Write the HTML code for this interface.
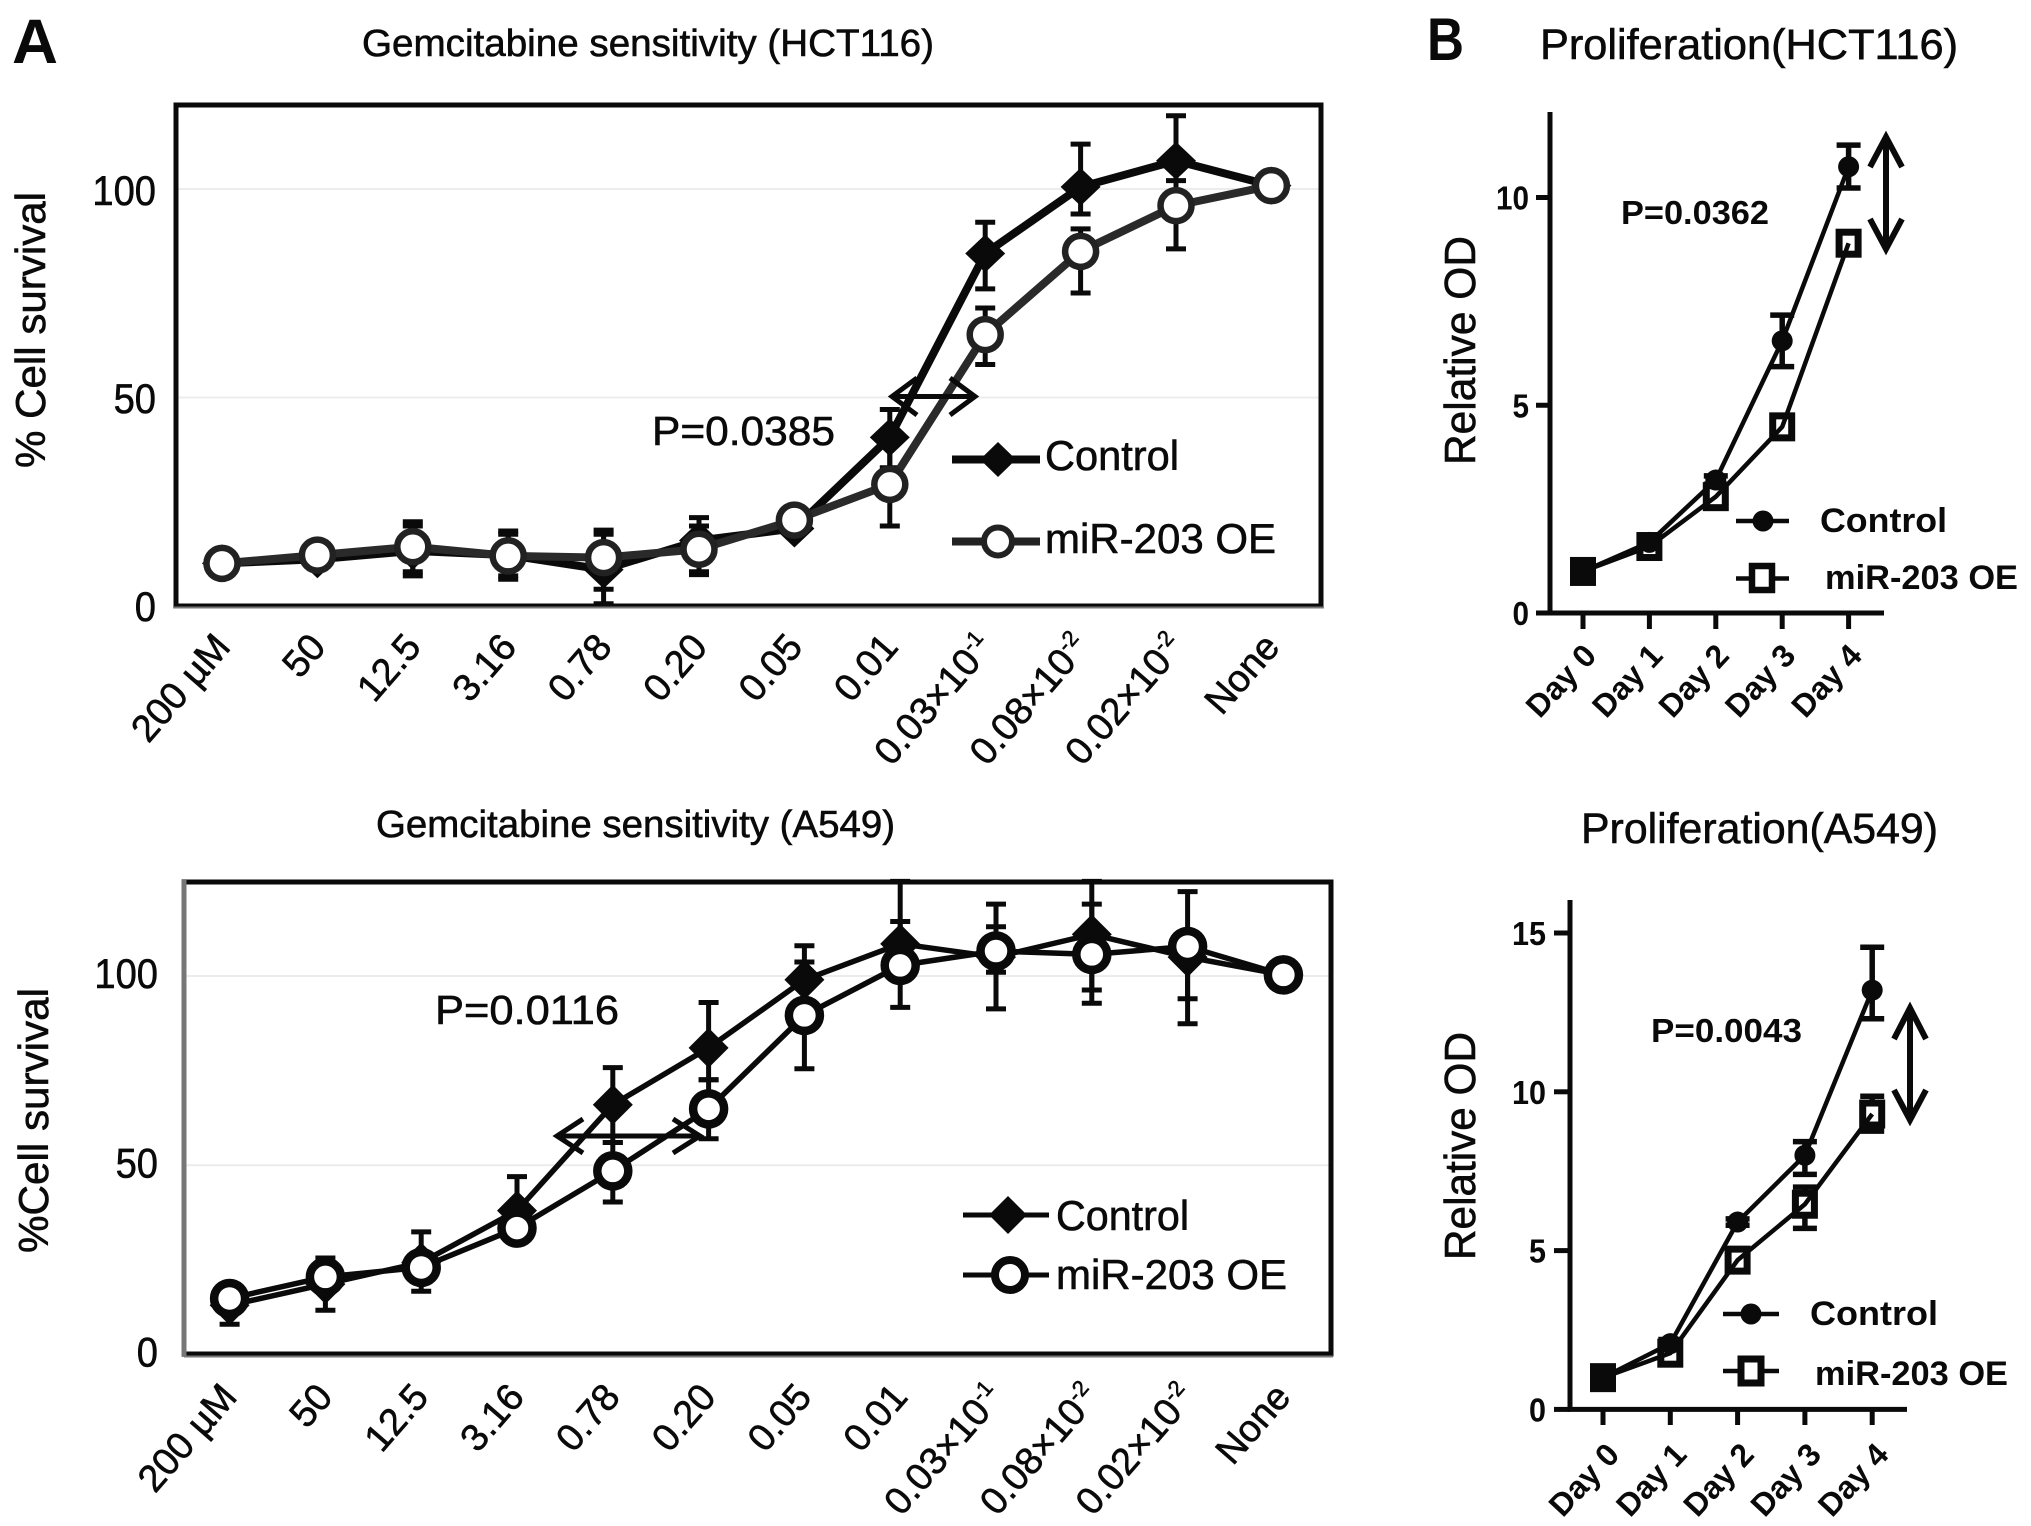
<!DOCTYPE html>
<html lang="en">
<head>
<meta charset="utf-8">
<title>Gemcitabine sensitivity and proliferation</title>
<style>
html,body{margin:0;padding:0;background:#fff;width:2031px;height:1526px;overflow:hidden}
svg{display:block}
text{font-family:"Liberation Sans",sans-serif;fill:#0a0a0a;stroke:#0a0a0a;stroke-width:.6}
.b{font-weight:bold;stroke-width:0}
</style>
</head>
<body>
<svg id="fig" xmlns="http://www.w3.org/2000/svg" width="2031" height="1526" viewBox="0 0 2031 1526">
  <rect x="0" y="0" width="2031" height="1526" fill="#fff"/>

  <text class="b" x="12" y="63" font-size="63" textLength="46" lengthAdjust="spacingAndGlyphs">A</text>
  <text class="b" x="1427" y="60" font-size="60" textLength="37" lengthAdjust="spacingAndGlyphs">B</text>

  <text x="362" y="56" font-size="38" textLength="572" lengthAdjust="spacingAndGlyphs">Gemcitabine sensitivity (HCT116)</text>
  <text x="376" y="837" font-size="38" textLength="519" lengthAdjust="spacingAndGlyphs">Gemcitabine sensitivity (A549)</text>
  <text x="1540" y="59" font-size="43" textLength="418" lengthAdjust="spacingAndGlyphs">Proliferation(HCT116)</text>
  <text x="1581" y="843" font-size="43" textLength="357" lengthAdjust="spacingAndGlyphs">Proliferation(A549)</text>

  <text transform="translate(45 468) rotate(-90)" font-size="42" textLength="276" lengthAdjust="spacingAndGlyphs">% Cell survival</text>
  <text transform="translate(48 1253) rotate(-90)" font-size="42" textLength="265" lengthAdjust="spacingAndGlyphs">%Cell survival</text>
  <text transform="translate(1475 465) rotate(-90)" font-size="44" textLength="229" lengthAdjust="spacingAndGlyphs">Relative OD</text>
  <text transform="translate(1475 1260) rotate(-90)" font-size="44" textLength="228" lengthAdjust="spacingAndGlyphs">Relative OD</text>

  <g id="layer-a1">
    <line x1="176" y1="189" x2="1320" y2="189" stroke="#ececec" stroke-width="2"/>
    <line x1="176" y1="397.5" x2="1320" y2="397.5" stroke="#ececec" stroke-width="2"/>
    <rect x="176" y="105" width="1145" height="501" fill="none" stroke="#0a0a0a" stroke-width="5"/>
    <line x1="174" y1="607.5" x2="1323" y2="607.5" stroke="#777" stroke-width="2"/>
  </g>
  <g id="layer-a2">
    <line x1="186" y1="976" x2="1330" y2="976" stroke="#ececec" stroke-width="2"/>
    <line x1="186" y1="1165.3" x2="1330" y2="1165.3" stroke="#ececec" stroke-width="2"/>
    <rect x="184" y="882" width="1147" height="472" fill="none" stroke="#0a0a0a" stroke-width="5"/>
    <line x1="184" y1="880" x2="184" y2="1356" stroke="#777" stroke-width="5"/>
    <line x1="184" y1="1356.5" x2="1333" y2="1356.5" stroke="#777" stroke-width="2"/>
  </g>
  <g id="layer-b1"></g>
  <g id="layer-b2"></g>

  <!-- annotations -->
  <text x="652" y="445" font-size="41" textLength="183" lengthAdjust="spacingAndGlyphs">P=0.0385</text>
  <text x="435" y="1024" font-size="41" textLength="184" lengthAdjust="spacingAndGlyphs">P=0.0116</text>
  <text class="b" x="1621" y="224" font-size="33" textLength="148" lengthAdjust="spacingAndGlyphs">P=0.0362</text>
  <text class="b" x="1651" y="1042" font-size="33" textLength="151" lengthAdjust="spacingAndGlyphs">P=0.0043</text>

  <g fill="none" stroke="#0a0a0a" stroke-width="5">
    <line x1="892" y1="396.5" x2="975" y2="396.5"/>
    <polyline points="917,378 892,396.5 917,415"/>
    <polyline points="950,378 975,396.5 950,415"/>
  </g>
  <g fill="none" stroke="#0a0a0a" stroke-width="5">
    <line x1="557" y1="1136" x2="700" y2="1136"/>
    <polyline points="583,1119 557,1136 583,1153"/>
    <polyline points="673,1119 700,1136 673,1153"/>
  </g>
  <g fill="none" stroke="#0a0a0a" stroke-width="6">
    <line x1="1886" y1="137" x2="1886" y2="249"/>
    <polyline points="1870,167 1886,137 1902,167"/>
    <polyline points="1870,219 1886,249 1902,219"/>
  </g>
  <g fill="none" stroke="#0a0a0a" stroke-width="6">
    <line x1="1910" y1="1008" x2="1910" y2="1120"/>
    <polyline points="1894,1039 1910,1008 1926,1039"/>
    <polyline points="1894,1090 1910,1120 1926,1090"/>
  </g>

  <!-- legends -->
  <g>
    <line x1="952" y1="459.5" x2="1040" y2="459.5" stroke="#0a0a0a" stroke-width="8"/>
    <polygon points="998,442 1016,459.5 998,477 980,459.5" fill="#0a0a0a"/>
    <text x="1045" y="470" font-size="42" textLength="134" lengthAdjust="spacingAndGlyphs">Control</text>
    <line x1="952" y1="541.5" x2="1040" y2="541.5" stroke="#222" stroke-width="8"/>
    <circle cx="998" cy="541.5" r="14" fill="#fff" stroke="#222" stroke-width="6"/>
    <text x="1045" y="553" font-size="42" textLength="231" lengthAdjust="spacingAndGlyphs">miR-203 OE</text>
  </g>
  <g>
    <line x1="963" y1="1215" x2="1049" y2="1215" stroke="#0a0a0a" stroke-width="5"/>
    <polygon points="1008,1196 1027,1215 1008,1234 989,1215" fill="#0a0a0a"/>
    <text x="1056" y="1230" font-size="42" textLength="133" lengthAdjust="spacingAndGlyphs">Control</text>
    <line x1="963" y1="1275" x2="1049" y2="1275" stroke="#0a0a0a" stroke-width="5"/>
    <circle cx="1010" cy="1275" r="15" fill="#fff" stroke="#0a0a0a" stroke-width="8"/>
    <text x="1056" y="1289" font-size="42" textLength="231" lengthAdjust="spacingAndGlyphs">miR-203 OE</text>
  </g>
  <g>
    <line x1="1736" y1="521" x2="1789" y2="521" stroke="#0a0a0a" stroke-width="4.5"/>
    <circle cx="1763" cy="521" r="10.5" fill="#0a0a0a"/>
    <text class="b" x="1820" y="532" font-size="34" textLength="127" lengthAdjust="spacingAndGlyphs">Control</text>
    <line x1="1736" y1="578.5" x2="1789" y2="578.5" stroke="#0a0a0a" stroke-width="4.5"/>
    <rect x="1752" y="566" width="20" height="24" fill="#fff" stroke="#0a0a0a" stroke-width="6.5"/>
    <text class="b" x="1825" y="589" font-size="34" textLength="193" lengthAdjust="spacingAndGlyphs">miR-203 OE</text>
  </g>
  <g>
    <line x1="1723" y1="1314" x2="1779" y2="1314" stroke="#0a0a0a" stroke-width="4.5"/>
    <circle cx="1751" cy="1314" r="10.5" fill="#0a0a0a"/>
    <text class="b" x="1810" y="1325" font-size="34" textLength="128" lengthAdjust="spacingAndGlyphs">Control</text>
    <line x1="1723" y1="1371" x2="1779" y2="1371" stroke="#0a0a0a" stroke-width="4.5"/>
    <rect x="1741" y="1359" width="20" height="24" fill="#fff" stroke="#0a0a0a" stroke-width="7"/>
    <text class="b" x="1815" y="1385" font-size="34" textLength="193" lengthAdjust="spacingAndGlyphs">miR-203 OE</text>
  </g>
</svg>

<script>
// ---- shared categories and tick labels ----
var doseLabels = ["200 µM","50","12.5","3.16","0.78","0.20","0.05","0.01","0.03×10^-1","0.08×10^-2","0.02×10^-2","None"];
var dayLabels = ["Day 0","Day 1","Day 2","Day 3","Day 4"];
var sensitivityTicks = [0,50,100];
var proliferationTicksHct = [0,5,10];
var proliferationTicksA549 = [0,5,10,15];

// ---- HCT116 sensitivity ----
var a1Control      = [10,11,13,12,8.5,15.5,18.4,40.3,84.5,100.5,106.8,100.8];
var a1ControlUpper = [13,13,20,17.8,18,21,20,47,92,110.8,117.6,101.5];
var a1ControlLower = [8,9,8,7,0.3,8,17,33,76,94,96,100];
var a1Mir          = [10,12,14,11.8,11.4,13.4,20.4,29,65,85,96,100.8];
var a1MirUpper     = [11,13,19,17,17,19,21.5,39,71.4,90.4,102,101.5];
var a1MirLower     = [9,11,7,6.2,3.8,7.3,19,19,57.8,75,85.6,100];

// ---- A549 sensitivity ----
var a2Control      = [13,18.6,24.3,38,66,81,99,108.5,105,111,105,100.3];
var a2ControlUpper = [16,22,32.4,47,75.8,93,108,125,113,125,110,101];
var a2ControlLower = [8,11.7,21,33,56,72.6,90,104,101,96.3,87.4,99.5];
var a2Mir          = [14.8,20.5,23,33.4,48.5,64.9,89.6,102.8,106.6,105.7,107.8,100.3];
var a2MirUpper     = [17,25.5,26,36,56,72.6,103.7,114.4,119,119,122.3,101];
var a2MirLower     = [12,17,16.7,30,40.3,57,75.5,91.7,91.3,92.8,94,99.5];

// ---- HCT116 proliferation ----
var b1Control      = [1,1.7,3.2,6.55,10.74];
var b1ControlUpper = [1.05,1.8,3.3,7.17,11.26];
var b1ControlLower = [0.95,1.6,3.1,5.93,10.23];
var b1Mir          = [1,1.6,2.8,4.48,8.9];
var b1MirUpper     = [1.05,1.7,2.9,4.6,9.1];
var b1MirLower     = [0.95,1.5,2.7,4.35,8.7];

// ---- A549 proliferation ----
var b2Control      = [1,2.07,5.9,8.0,13.2];
var b2ControlUpper = [1.1,2.2,6.0,8.43,14.55];
var b2ControlLower = [0.9,1.95,5.8,7.4,12.3];
var b2Mir          = [1,1.77,4.7,6.46,9.3];
var b2MirUpper     = [1.1,1.9,5.0,7.0,9.86];
var b2MirLower     = [0.9,1.65,4.4,5.7,8.76];

var NS = "http://www.w3.org/2000/svg";

function shape(parent, tag, attrs) {
  var el = document.createElementNS(NS, tag);
  for (var k in attrs) { el.setAttribute(k, attrs[k]); }
  parent.appendChild(el);
  return el;
}

function makeScale(origin, unit) {
  return function (v) { return origin + unit * v; };
}

function drawErrorBars(g, xs, ys, values, upper, lower, o) {
  values.forEach(function (v, i) {
    var px = xs(i);
    var eg = shape(g, "g", { stroke: o.color, "stroke-width": o.barWidth, fill: "none" });
    
    
    shape(eg, "line", { x1: px, x2: px, y1: ys(upper[i]), y2: ys(lower[i]) });
    shape(eg, "line", { x1: px - o.cap, x2: px + o.cap, y1: ys(upper[i]), y2: ys(upper[i]) });
    shape(eg, "line", { x1: px - o.cap, x2: px + o.cap, y1: ys(lower[i]), y2: ys(lower[i]) });
  });
}

function drawLine(g, xs, ys, values, color, width) {
  var pts = values.map(function (v, i) { return xs(i) + "," + ys(v); }).join(" ");
  var el = shape(g, "polyline", { points: pts, fill: "none", stroke: color, "stroke-width": width, "stroke-linejoin": "round" });
  
  
}

function drawDiamonds(g, xs, ys, values, rx, ry, color) {
  values.forEach(function (v, i) {
    var px = xs(i), py = ys(v);
    var el = shape(g, "polygon", {
      points: px + "," + (py - ry) + " " + (px + rx) + "," + py + " " + px + "," + (py + ry) + " " + (px - rx) + "," + py,
      fill: color
    });
    
    
  });
}

function drawRings(g, xs, ys, values, r, sw, color) {
  values.forEach(function (v, i) {
    var el = shape(g, "circle", { cx: xs(i), cy: ys(v), r: r, fill: "#fff", stroke: color, "stroke-width": sw });
    
    
  });
}

function drawDots(g, xs, ys, values, r, color) {
  values.forEach(function (v, i) {
    var el = shape(g, "circle", { cx: xs(i), cy: ys(v), r: r, fill: color });
    
    
  });
}

function drawSquares(g, xs, ys, values, w, h, sw, color) {
  values.forEach(function (v, i) {
    var el = shape(g, "rect", { x: xs(i) - w / 2, y: ys(v) - h / 2, width: w, height: h, fill: "#fff", stroke: color, "stroke-width": sw });
    
    
  });
}

function drawYTicks(g, ys, ticks, o) {
  ticks.forEach(function (t) {
    var s = String(t);
    var el = shape(g, "text", {
      x: o.right - s.length * o.charWidth, y: ys(t) + o.baseline, "font-size": o.size,
      textLength: s.length * o.charWidth, lengthAdjust: "spacingAndGlyphs"
    });
    if (o.bold) { el.setAttribute("class", "b"); }
    el.textContent = s;
    
    
    if (o.tickFrom !== undefined) {
      var tk = shape(g, "line", { x1: o.tickFrom, x2: o.tickTo, y1: ys(t), y2: ys(t), stroke: "#0a0a0a", "stroke-width": 5 });
      
      
    }
  });
}

function drawXTicks(g, xs, labels, o) {
  labels.forEach(function (label, i) {
    var ax = xs(i) + o.dx, ay = o.y;
    var el = shape(g, "text", {
      transform: "translate(" + ax + " " + ay + ") rotate(" + o.angle + ")",
      x: 0, y: 0, "text-anchor": "end", "font-size": o.size
    });
    if (o.bold) { el.setAttribute("class", "b"); }
    var parts = label.split("^");
    el.textContent = parts[0];
    if (parts[1]) {
      var sup = shape(el, "tspan", { "font-size": o.size * 0.58, dy: -o.size * 0.38 });
      sup.textContent = parts[1];
    }
    
    
    if (o.tickTo !== undefined) {
      var tk = shape(g, "line", { x1: xs(i), x2: xs(i), y1: o.tickFrom, y2: o.tickTo, stroke: "#0a0a0a", "stroke-width": 5 });
      
      
    }
  });
}

// ---- Panel A, HCT116 ----
(function () {
  var g = document.getElementById("layer-a1");
  var xs = makeScale(222, 95.4), ys = makeScale(605, -4.16);
  var err = { color: "#0a0a0a", barWidth: 5, cap: 10 };
  drawErrorBars(g, xs, ys, a1Control, a1ControlUpper, a1ControlLower, err);
  drawLine(g, xs, ys, a1Control, "#0a0a0a", 8);
  drawDiamonds(g, xs, ys, a1Control, 20, 19, "#0a0a0a");
  drawErrorBars(g, xs, ys, a1Mir, a1MirUpper, a1MirLower, err);
  drawLine(g, xs, ys, a1Mir, "#2a2a2a", 8);
  drawRings(g, xs, ys, a1Mir, 15.5, 6.5, "#222");
  drawYTicks(g, ys, sensitivityTicks, { right: 156, charWidth: 21.2, size: 42, baseline: 16 });
  drawXTicks(g, xs, doseLabels, { dx: 10, y: 648, size: 38, angle: -49 });
})();

// ---- Panel A, A549 ----
(function () {
  var g = document.getElementById("layer-a2");
  var xs = makeScale(229.6, 95.8), ys = makeScale(1354.5, -3.785);
  var err = { color: "#0a0a0a", barWidth: 5, cap: 10 };
  drawErrorBars(g, xs, ys, a2Control, a2ControlUpper, a2ControlLower, err);
  drawLine(g, xs, ys, a2Control, "#0a0a0a", 5.5);
  drawDiamonds(g, xs, ys, a2Control, 20, 20, "#0a0a0a");
  drawErrorBars(g, xs, ys, a2Mir, a2MirUpper, a2MirLower, err);
  drawLine(g, xs, ys, a2Mir, "#0a0a0a", 5.5);
  drawRings(g, xs, ys, a2Mir, 15.5, 8.5, "#0a0a0a");
  drawYTicks(g, ys, sensitivityTicks, { right: 158, charWidth: 21.2, size: 42, baseline: 12 });
  drawXTicks(g, xs, doseLabels, { dx: 9, y: 1398, size: 38, angle: -49 });
})();

// ---- Panel B, HCT116 ----
(function () {
  var g = document.getElementById("layer-b1");
  var xs = makeScale(1583, 66.4), ys = makeScale(613, -41.55);
  var axis = shape(g, "polyline", { points: "1550,112 1550,613 1884,613", fill: "none", stroke: "#0a0a0a", "stroke-width": 5 });
  
  
  var err = { color: "#0a0a0a", barWidth: 5.5, cap: 12 };
  drawErrorBars(g, xs, ys, b1Mir, b1MirUpper, b1MirLower, err);
  drawSquares(g, xs, ys, b1Mir, 19, 22, 7, "#0a0a0a");
  drawLine(g, xs, ys, b1Mir, "#0a0a0a", 4.5);
  drawErrorBars(g, xs, ys, b1Control, b1ControlUpper, b1ControlLower, err);
  drawLine(g, xs, ys, b1Control, "#0a0a0a", 4.5);
  drawDots(g, xs, ys, b1Control, 10.5, "#0a0a0a");
  drawYTicks(g, ys, proliferationTicksHct, { right: 1529, charWidth: 16.5, size: 33, baseline: 12, bold: true, tickFrom: 1536, tickTo: 1550 });
  drawXTicks(g, xs, dayLabels, { dx: 15, y: 657, size: 32, bold: true, angle: -47, tickFrom: 613, tickTo: 629 });
})();

// ---- Panel B, A549 ----
(function () {
  var g = document.getElementById("layer-b2");
  var xs = makeScale(1603, 67.3), ys = makeScale(1409.4, -31.76);
  var axis = shape(g, "polyline", { points: "1570,900 1570,1409.4 1907,1409.4", fill: "none", stroke: "#0a0a0a", "stroke-width": 5 });
  
  
  var err = { color: "#0a0a0a", barWidth: 5.5, cap: 12 };
  drawErrorBars(g, xs, ys, b2Mir, b2MirUpper, b2MirLower, err);
  drawSquares(g, xs, ys, b2Mir, 19, 22, 7, "#0a0a0a");
  drawLine(g, xs, ys, b2Mir, "#0a0a0a", 4.5);
  drawErrorBars(g, xs, ys, b2Control, b2ControlUpper, b2ControlLower, err);
  drawLine(g, xs, ys, b2Control, "#0a0a0a", 4.5);
  drawDots(g, xs, ys, b2Control, 10.5, "#0a0a0a");
  drawYTicks(g, ys, proliferationTicksA549, { right: 1546, charWidth: 17, size: 33, baseline: 12, bold: true, tickFrom: 1554, tickTo: 1570 });
  drawXTicks(g, xs, dayLabels, { dx: 18, y: 1456, size: 32, bold: true, angle: -47, tickFrom: 1409, tickTo: 1425 });
})();
</script>
</body>
</html>
